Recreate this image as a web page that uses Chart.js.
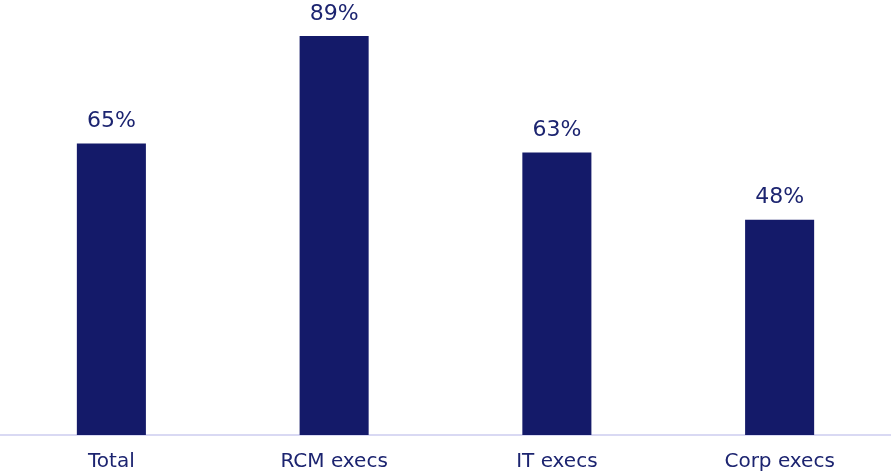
<!DOCTYPE html>
<html>
<head>
<meta charset="utf-8">
<script src="https://cdn.jsdelivr.net/npm/chart.js@4"></script>
<style>
  html, body { margin: 0; padding: 0; background: #ffffff; }
  #wrap { width: 891px; height: 471px; position: relative; }
</style>
</head>
<body>
<div id="wrap"><canvas id="chart"></canvas></div>
<script>
const categories = ["Total", "RCM execs", "IT execs", "Corp execs"];
const shares = [65, 89, 63, 48];

const barLabels = {
    id: "barLabels",
    afterDatasetsDraw(chart) {
        const ctx = chart.ctx;
        const meta = chart.getDatasetMeta(0);
        ctx.save();
        ctx.font = "22px 'DejaVu Sans'";
        ctx.fillStyle = "#1c2470";
        ctx.textAlign = "center";
        ctx.textBaseline = "bottom";
        meta.data.forEach((bar, i) => {
            ctx.fillText(shares[i] + "%", bar.x, bar.y - 11);
        });
        ctx.restore();
    }
};

const ctx = document.getElementById("chart").getContext("2d");
new Chart(ctx, {
    type: "bar",
    data: {
        labels: categories,
        datasets: [{
            data: shares,
            backgroundColor: "#141a69",
            categoryPercentage: 1,
            barPercentage: 0.31
        }]
    },
    options: {
        responsive: true,
        maintainAspectRatio: false,
        animation: false,
        layout: { padding: 0 },
        plugins: {
            legend: { display: false },
            tooltip: { enabled: false }
        },
        scales: {
            x: {
                grid: { display: false, drawTicks: false },
                border: { display: true, color: "#d9d9f3", width: 2 },
                ticks: {
                    color: "#1c2470",
                    padding: 15,
                    font: { family: "'DejaVu Sans'", size: 20 }
                },
                afterFit(scale) {
                    // labels run off the bottom edge in the original
                    scale.height = 36;
                }
            },
            y: {
                display: false,
                min: 0,
                max: 97
            }
        }
    },
    plugins: [barLabels]
});
</script>
</body>
</html>
